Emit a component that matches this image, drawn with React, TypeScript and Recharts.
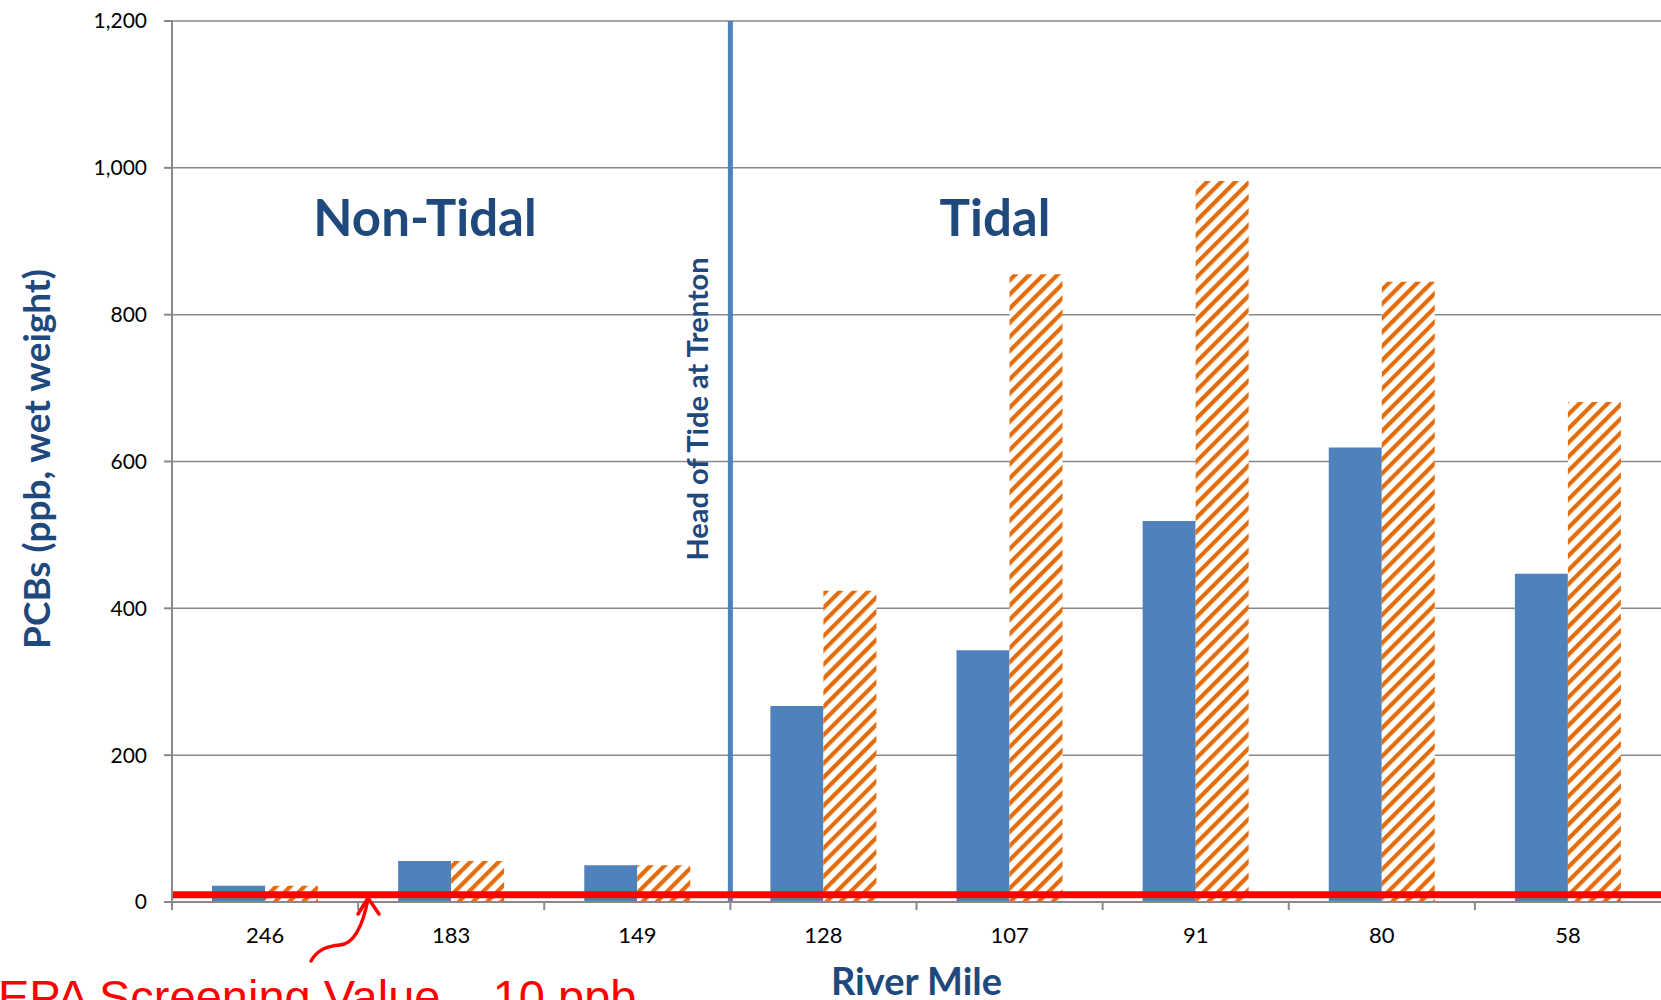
import React from "react";
import {
  BarChart, Bar, XAxis, YAxis, CartesianGrid, ReferenceLine,
} from "recharts";

// river miles, upstream -> downstream
const miles = ["246", "183", "149", "128", "107", "91", "80", "58"];
const seriesA = [22, 56, 50, 267, 343, 519, 619, 447];
const seriesB = [22, 56, 50, 424, 855, 982, 845, 681];
const yTicks = [0, 200, 400, 600, 800, 1000, 1200];
const SCREENING_VALUE = 10;
const HEAD_OF_TIDE = "128";

const data = miles.map((m, i) => ({ mile: m, a: seriesA[i], b: seriesB[i] }));

const W = 1661;
const H = 1000;
const LEFT = 172;
const TOP = 21;
const AXIS_Y = 902;
const BAND = (W - LEFT) / miles.length;

const GRAY = "#898989";
const BLUE = "#4f81bd";
const NAVY = "#1f497d";
const ORANGE = "#e46c0a";
const FONT = "Lato, 'Open Sans', sans-serif";

function MileTick(props: any) {
  const { x, payload } = props;
  const edge = x - BAND / 2;
  return (
    <g>
      <line x1={edge} x2={edge} y1={AXIS_Y} y2={AXIS_Y + 8} stroke={GRAY} strokeWidth={2} />
      <text
        x={x}
        y={AXIS_Y + 25}
        dy="0.71em"
        textAnchor="middle"
        fontFamily={FONT}
        fontSize={22}
        fill="#000"
      >
        {payload.value}
      </text>
    </g>
  );
}

export default function App() {
  return (
    <div style={{ position: "absolute", left: 0, top: 0, width: W, height: H, overflow: "hidden", background: "#fff" }}>
      <BarChart
        width={W}
        height={H}
        data={data}
        margin={{ top: TOP, right: 0, left: 0, bottom: 38 }}
        barCategoryGap="21.5%"
        barGap={0}
      >
        <CartesianGrid vertical={false} stroke={GRAY} strokeWidth={1.5} />
        <XAxis
          dataKey="mile"
          height={60}
          axisLine={{ stroke: GRAY, strokeWidth: 2 }}
          tickLine={false}
          tick={<MileTick />}
          interval={0}
          label={{
            content: () => (
              <text
                x={LEFT + (W - LEFT) / 2}
                y={995}
                textAnchor="middle"
                fontFamily={FONT}
                fontWeight={700}
                fontSize={38}
                fill={NAVY}
              >
                River Mile
              </text>
            ),
          }}
        />
        <YAxis
          width={LEFT}
          domain={[0, 1200]}
          ticks={yTicks}
          interval={0}
          tickFormatter={(v: number) => v.toLocaleString("en-US")}
          axisLine={{ stroke: GRAY, strokeWidth: 2 }}
          tickLine={{ stroke: GRAY, strokeWidth: 2 }}
          tickSize={8}
          tickMargin={17}
          tick={{ fontFamily: FONT, fontSize: 21, fill: "#000" }}
          label={{
            content: () => (
              <text
                x={35}
                y={459}
                transform="rotate(-90, 35, 459)"
                textAnchor="middle"
                dominantBaseline="central"
                fontFamily={FONT}
                fontWeight={700}
                fontSize={37}
                fill={NAVY}
              >
                PCBs (ppb, wet weight)
              </text>
            ),
          }}
        />
        <Bar dataKey="a" fill={BLUE} isAnimationActive={false} />
        <Bar dataKey="b" fill="url(#hatch)" isAnimationActive={false} />
        <ReferenceLine x={HEAD_OF_TIDE} position="start" stroke={BLUE} strokeWidth={5} />
        <ReferenceLine y={SCREENING_VALUE} stroke="#ff0000" strokeWidth={7} />
      </BarChart>

      <svg
        width={W}
        height={H}
        style={{ position: "absolute", left: 0, top: 0, pointerEvents: "none" }}
      >
        <defs>
          <pattern id="hatch" patternUnits="userSpaceOnUse" width={10} height={10} patternTransform="rotate(45)">
            <rect width={10} height={10} fill="#fff" />
            <rect width={4.2} height={10} fill={ORANGE} />
          </pattern>
        </defs>
        <text x={425} y={236} textAnchor="middle" fontFamily={FONT} fontWeight={700} fontSize={51} fill={NAVY}>
          Non-Tidal
        </text>
        <text x={995} y={236} textAnchor="middle" fontFamily={FONT} fontWeight={700} fontSize={51} fill={NAVY}>
          Tidal
        </text>
        <text
          x={696}
          y={409}
          transform="rotate(-90, 696, 409)"
          textAnchor="middle"
          dominantBaseline="central"
          fontFamily={FONT}
          fontWeight={700}
          fontSize={29}
          fill={NAVY}
        >
          Head of Tide at Trenton
        </text>
        <path
          d="M 311 961 C 318 948, 330 946, 340 945 C 352 944, 362 930, 368 899"
          fill="none"
          stroke="#ff0000"
          strokeWidth={3.5}
          strokeLinecap="round"
        />
        <path d="M 358 914 L 368 898 L 379 914" fill="none" stroke="#ff0000" strokeWidth={3.5} strokeLinecap="round" strokeLinejoin="round" />
        <text x={-2} y={1013} fontFamily="'Liberation Sans', Arial, sans-serif" fontSize={47} fill="#ff0000">
          EPA Screening Value – 10 ppb
        </text>
      </svg>
    </div>
  );
}
